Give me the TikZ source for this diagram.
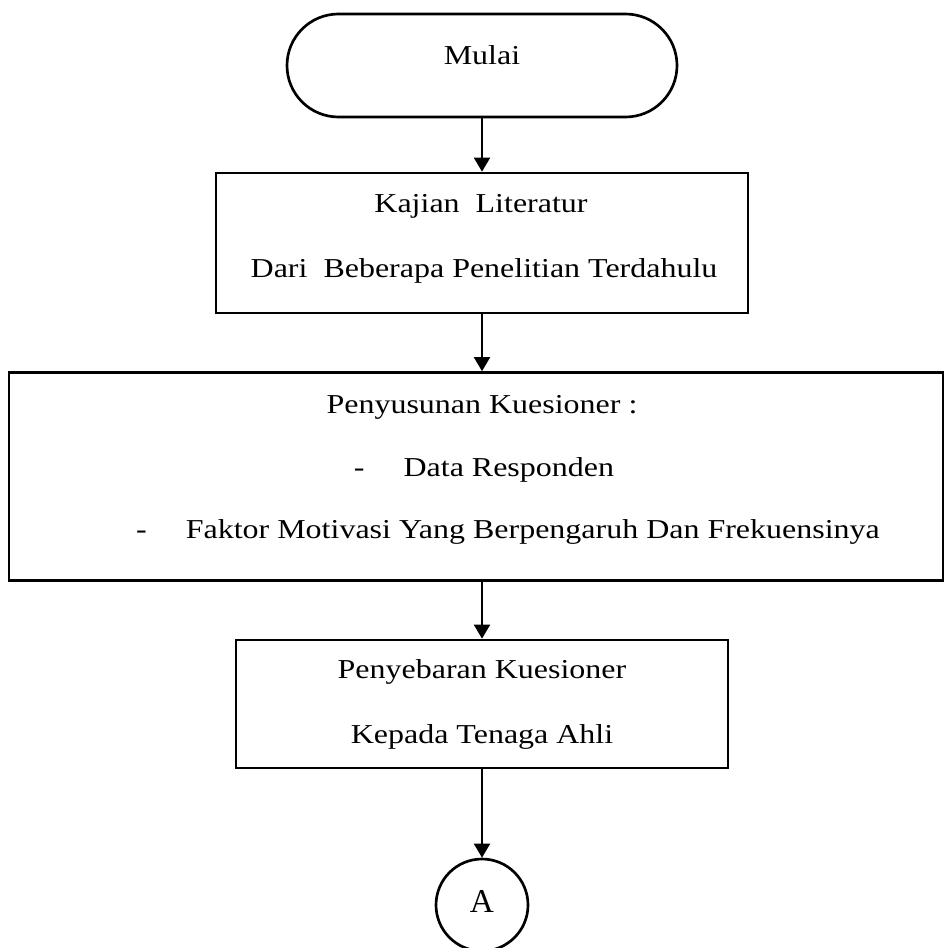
\documentclass[tikz,border=0pt]{standalone}
\usepackage{fontspec}
\setmainfont{Liberation Serif}
\usetikzlibrary{shapes.misc,arrows.meta}
\newcommand{\hs}[1]{\scalebox{1.17}[1]{#1}}
\begin{document}
\begin{tikzpicture}[x=0.75pt,y=-0.75pt,
  txt/.style={font=\fontsize{20.5}{24}\selectfont,anchor=base,inner sep=0pt},
  boxstyle/.style={draw,line width=2pt,inner sep=0pt},
  arr/.style={-{Triangle[length=10.5pt,width=12pt]},line width=1.5pt}]
\useasboundingbox (0,0) rectangle (945,948);
% shapes
\node[boxstyle,rounded rectangle,minimum width=292.5pt,minimum height=77.25pt] (start) at (482,65.5) {};
\node[boxstyle,minimum width=399pt,minimum height=105pt] (kaj) at (482,243) {};
\node[boxstyle,minimum width=700.5pt,minimum height=156pt] (wide) at (476,476.5) {};
\node[boxstyle,minimum width=369pt,minimum height=96pt] (pen) at (482,704) {};
\node[boxstyle,circle,minimum size=69pt] (a) at (482,905) {};
% texts
\node[txt] (tstart) at (482,65) {\hs{Mulai}};
\node[txt] (tkaj1) at (481,213) {\hs{Kajian\ \ Literatur}};
\node[txt] (tkaj2) at (484,277) {\hs{Dari\ \ Beberapa Penelitian Terdahulu}};
\node[txt] (twide1) at (482,413) {\hs{Penyusunan Kuesioner :}};
\node[txt] (twide2) at (484,476) {\hs{-\hspace{25pt}Data Responden}};
\node[txt] (twide3) at (508,538) {\hs{-\hspace{25pt}Faktor Motivasi Yang Berpengaruh Dan Frekuensinya}};
\node[txt] (tpen1) at (482,678) {\hs{Penyebaran Kuesioner}};
\node[txt] (tpen2) at (482,743) {\hs{Kepada Tenaga Ahli}};
\node[txt,font=\fontsize{25}{29}\selectfont] (ta) at (482,912) {A};
% connectors
\draw[arr] (start.south) -- (kaj.north);
\draw[arr] (kaj.south) -- (kaj.south |- wide.north);
\draw[arr] (pen.north |- wide.south) -- (pen.north);
\draw[arr] (pen.south) -- (a.north);
\end{tikzpicture}
\end{document}
